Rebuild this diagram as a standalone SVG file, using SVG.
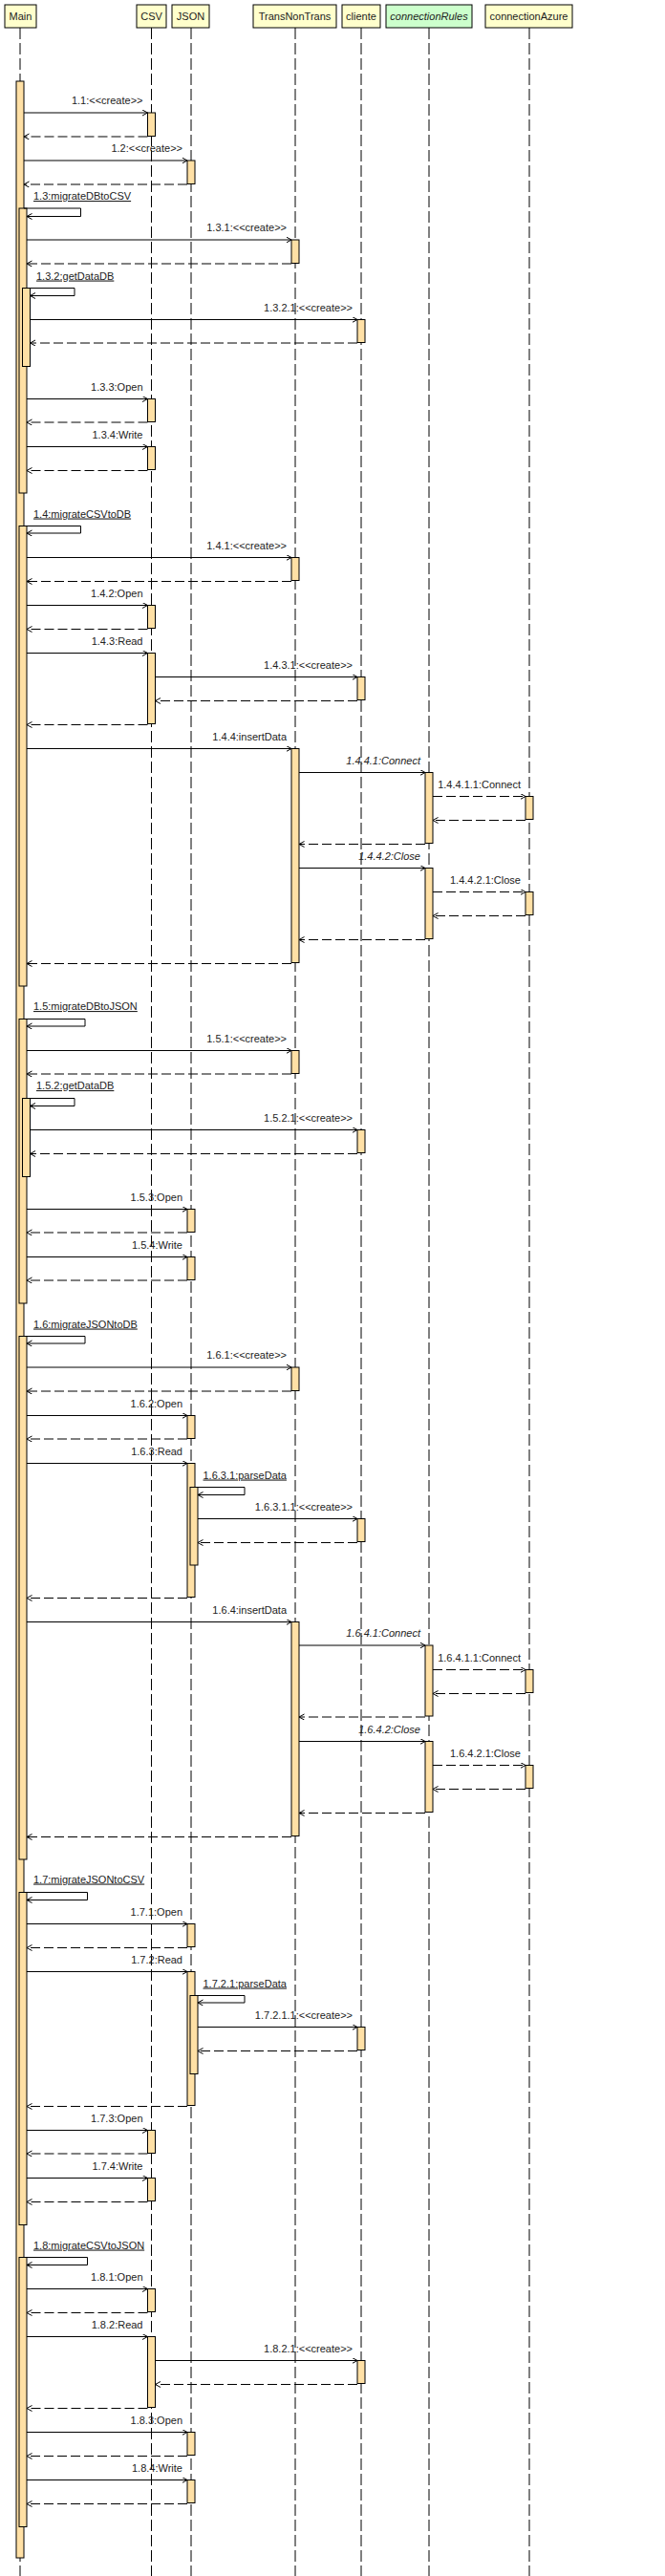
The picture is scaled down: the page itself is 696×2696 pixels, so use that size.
<svg xmlns="http://www.w3.org/2000/svg" width="696" height="2696" viewBox="0 0 696 2696">
<style>
.box{fill:#FFFFCC;stroke:#000;stroke-width:1}
.iface{fill:#CCFFCC}
.life{stroke:#000;stroke-width:1;stroke-dasharray:12 4;fill:none}
.act{fill:#FFE0A5;stroke:#000;stroke-width:1}
.msg{stroke:#000;stroke-width:1;fill:none;marker-end:url(#open)}
.ret{stroke-dasharray:10 4}
text{font-family:"Liberation Sans",Arial,sans-serif;font-size:11px;fill:#222}
.hd{text-anchor:middle}
.e{text-anchor:end}
.u{text-decoration:underline}
.it{font-style:italic}
</style>
<defs>
<marker id="open" markerWidth="8" markerHeight="8" refX="5.5" refY="3" orient="auto" markerUnits="userSpaceOnUse">
<path d="M0,0 L5.5,3 L0,6" fill="none" stroke="#000" stroke-width="1"/>
</marker>
</defs>
<rect width="696" height="2696" fill="#fff"/>

<g id="Main">
<rect class="box" x="5" y="5" width="33" height="24"/>
<text class="hd" x="21.5" y="21">Main</text>
<line class="life" x1="21" y1="29" x2="21" y2="2696"/>
<rect class="act" x="17" y="85" width="8" height="2592"/>
<rect class="act" x="20" y="218" width="8" height="298"/>
<rect class="act" x="20" y="550.5" width="8" height="481.5"/>
<rect class="act" x="20" y="1066.5" width="8" height="297.5"/>
<rect class="act" x="20" y="1398.5" width="8" height="547.5"/>
<rect class="act" x="20" y="1980.5" width="8" height="348"/>
<rect class="act" x="20" y="2362.5" width="8" height="282"/>
<rect class="act" x="23.5" y="301.5" width="8" height="82"/>
<rect class="act" x="23.5" y="1149.5" width="8" height="82"/>
</g>

<g id="CSV">
<rect class="box" x="143" y="5" width="31" height="24"/>
<text class="hd" x="158.5" y="21">CSV</text>
<line class="life" x1="158.5" y1="29" x2="158.5" y2="2696"/>
<rect class="act" x="154.5" y="118" width="8" height="24.5"/>
<rect class="act" x="154.5" y="417.5" width="8" height="24"/>
<rect class="act" x="154.5" y="467.5" width="8" height="24"/>
<rect class="act" x="154.5" y="633.5" width="8" height="24"/>
<rect class="act" x="154.5" y="683.5" width="8" height="74"/>
<rect class="act" x="154.5" y="2229.5" width="8" height="24"/>
<rect class="act" x="154.5" y="2279.5" width="8" height="24"/>
<rect class="act" x="154.5" y="2395.5" width="8" height="24"/>
<rect class="act" x="154.5" y="2445.5" width="8" height="74"/>
</g>

<g id="JSON">
<rect class="box" x="180" y="5" width="39" height="24"/>
<text class="hd" x="199.5" y="21">JSON</text>
<line class="life" x1="200" y1="29" x2="200" y2="2696"/>
<rect class="act" x="196" y="168" width="8" height="24.5"/>
<rect class="act" x="196" y="1265.5" width="8" height="24"/>
<rect class="act" x="196" y="1315.5" width="8" height="24"/>
<rect class="act" x="196" y="1481.5" width="8" height="24"/>
<rect class="act" x="196" y="1531.5" width="8" height="140"/>
<rect class="act" x="196" y="2013.5" width="8" height="24"/>
<rect class="act" x="196" y="2063.5" width="8" height="140"/>
<rect class="act" x="196" y="2545.5" width="8" height="24"/>
<rect class="act" x="196" y="2595.5" width="8" height="24"/>
<rect class="act" x="199" y="1556.5" width="8" height="81.5"/>
<rect class="act" x="199" y="2088.5" width="8" height="82"/>
</g>

<g id="TransNonTrans">
<rect class="box" x="265" y="5" width="87" height="24"/>
<text class="hd" x="308.5" y="21">TransNonTrans</text>
<line class="life" x1="309" y1="29" x2="309" y2="2696"/>
<rect class="act" x="305" y="251" width="8" height="24.5"/>
<rect class="act" x="305" y="583.5" width="8" height="24"/>
<rect class="act" x="305" y="783.5" width="8" height="224"/>
<rect class="act" x="305" y="1099.5" width="8" height="24"/>
<rect class="act" x="305" y="1431" width="8" height="24.5"/>
<rect class="act" x="305" y="1697.5" width="8" height="224"/>
</g>

<g id="cliente">
<rect class="box" x="358" y="5" width="40" height="24"/>
<text class="hd" x="378" y="21">cliente</text>
<line class="life" x1="378" y1="29" x2="378" y2="2696"/>
<rect class="act" x="374" y="334.5" width="8" height="24"/>
<rect class="act" x="374" y="708.5" width="8" height="24"/>
<rect class="act" x="374" y="1182.5" width="8" height="24"/>
<rect class="act" x="374" y="1589.5" width="8" height="24"/>
<rect class="act" x="374" y="2121.5" width="8" height="24"/>
<rect class="act" x="374" y="2470.5" width="8" height="24"/>
</g>

<g id="connectionRules">
<rect class="box iface" x="404" y="5" width="90" height="24"/>
<text class="hd it" x="449" y="21">connectionRules</text>
<line class="life" x1="449" y1="29" x2="449" y2="2696"/>
<rect class="act" x="445" y="808.5" width="8" height="74"/>
<rect class="act" x="445" y="908.5" width="8" height="74"/>
<rect class="act" x="445" y="1722" width="8" height="74"/>
<rect class="act" x="445" y="1822.5" width="8" height="74"/>
</g>

<g id="connectionAzure">
<rect class="box" x="508" y="5" width="91" height="24"/>
<text class="hd" x="553.5" y="21">connectionAzure</text>
<line class="life" x1="554" y1="29" x2="554" y2="2696"/>
<rect class="act" x="550" y="833.5" width="8" height="24"/>
<rect class="act" x="550" y="933.5" width="8" height="24"/>
<rect class="act" x="550" y="1747.5" width="8" height="24"/>
<rect class="act" x="550" y="1847.5" width="8" height="24"/>
</g>

<g id="connectors">
<line class="msg" x1="25" y1="118" x2="154.5" y2="118"/><text class="e" x="149.5" y="109">1.1:&lt;&lt;create&gt;&gt;</text>
<line class="msg ret" x1="154.5" y1="143" x2="25" y2="143"/>
<line class="msg" x1="25" y1="168" x2="196" y2="168"/><text class="e" x="191" y="159">1.2:&lt;&lt;create&gt;&gt;</text>
<line class="msg ret" x1="196" y1="193" x2="25" y2="193"/>

<text class="u" x="35" y="209">1.3:migrateDBtoCSV</text>
<path class="msg" d="M25,218 H84.5 V226.5 H28"/>
<line class="msg" x1="28" y1="251" x2="305" y2="251"/><text class="e" x="300" y="242">1.3.1:&lt;&lt;create&gt;&gt;</text>
<line class="msg ret" x1="305" y1="276" x2="28" y2="276"/>
<text class="u" x="38" y="292.5">1.3.2:getDataDB</text>
<path class="msg" d="M28,301.5 H78 V309.5 H31.5"/>
<line class="msg" x1="31.5" y1="334.5" x2="374" y2="334.5"/><text class="e" x="369" y="325.5">1.3.2.1:&lt;&lt;create&gt;&gt;</text>
<line class="msg ret" x1="374" y1="359" x2="31.5" y2="359"/>
<line class="msg" x1="28" y1="417.5" x2="154.5" y2="417.5"/><text class="e" x="149.5" y="408.5">1.3.3:Open</text>
<line class="msg ret" x1="154.5" y1="442" x2="28" y2="442"/>
<line class="msg" x1="28" y1="467.5" x2="154.5" y2="467.5"/><text class="e" x="149.5" y="458.5">1.3.4:Write</text>
<line class="msg ret" x1="154.5" y1="492.5" x2="28" y2="492.5"/>

<text class="u" x="35" y="541.5">1.4:migrateCSVtoDB</text>
<path class="msg" d="M25,550.5 H84.5 V558 H28"/>
<line class="msg" x1="28" y1="583.5" x2="305" y2="583.5"/><text class="e" x="300" y="574.5">1.4.1:&lt;&lt;create&gt;&gt;</text>
<line class="msg ret" x1="305" y1="608.5" x2="28" y2="608.5"/>
<line class="msg" x1="28" y1="633.5" x2="154.5" y2="633.5"/><text class="e" x="149.5" y="624.5">1.4.2:Open</text>
<line class="msg ret" x1="154.5" y1="658.5" x2="28" y2="658.5"/>
<line class="msg" x1="28" y1="683.5" x2="154.5" y2="683.5"/><text class="e" x="149.5" y="674.5">1.4.3:Read</text>
<line class="msg" x1="162.5" y1="708.5" x2="374" y2="708.5"/><text class="e" x="369" y="699.5">1.4.3.1:&lt;&lt;create&gt;&gt;</text>
<line class="msg ret" x1="374" y1="733.5" x2="162.5" y2="733.5"/>
<line class="msg ret" x1="154.5" y1="758.5" x2="28" y2="758.5"/>
<line class="msg" x1="28" y1="783.5" x2="305" y2="783.5"/><text class="e" x="300" y="774.5">1.4.4:insertData</text>
<line class="msg" x1="313" y1="808.5" x2="445" y2="808.5"/><text class="e it" x="440" y="799.5">1.4.4.1:Connect</text>
<line class="msg ret" x1="453" y1="833.5" x2="550" y2="833.5"/><text class="e" x="545" y="824.5">1.4.4.1.1:Connect</text>
<line class="msg ret" x1="550" y1="858.5" x2="453" y2="858.5"/>
<line class="msg ret" x1="445" y1="883.5" x2="313" y2="883.5"/>
<line class="msg" x1="313" y1="908.5" x2="445" y2="908.5"/><text class="e it" x="440" y="899.5">1.4.4.2:Close</text>
<line class="msg ret" x1="453" y1="933.5" x2="550" y2="933.5"/><text class="e" x="545" y="924.5">1.4.4.2.1:Close</text>
<line class="msg ret" x1="550" y1="958.5" x2="453" y2="958.5"/>
<line class="msg ret" x1="445" y1="983.5" x2="313" y2="983.5"/>
<line class="msg ret" x1="305" y1="1008.5" x2="28" y2="1008.5"/>

<text class="u" x="35" y="1057">1.5:migrateDBtoJSON</text>
<path class="msg" d="M25,1066.5 H89 V1074 H28"/>
<line class="msg" x1="28" y1="1099.5" x2="305" y2="1099.5"/><text class="e" x="300" y="1090.5">1.5.1:&lt;&lt;create&gt;&gt;</text>
<line class="msg ret" x1="305" y1="1124" x2="28" y2="1124"/>
<text class="u" x="38" y="1140">1.5.2:getDataDB</text>
<path class="msg" d="M28,1149.5 H78 V1157.5 H31.5"/>
<line class="msg" x1="31.5" y1="1182.5" x2="374" y2="1182.5"/><text class="e" x="369" y="1173.5">1.5.2.1:&lt;&lt;create&gt;&gt;</text>
<line class="msg ret" x1="374" y1="1207.5" x2="31.5" y2="1207.5"/>
<line class="msg" x1="28" y1="1265.5" x2="196" y2="1265.5"/><text class="e" x="191" y="1256.5">1.5.3:Open</text>
<line class="msg ret" x1="196" y1="1290" x2="28" y2="1290"/>
<line class="msg" x1="28" y1="1315.5" x2="196" y2="1315.5"/><text class="e" x="191" y="1306.5">1.5.4:Write</text>
<line class="msg ret" x1="196" y1="1340" x2="28" y2="1340"/>

<text class="u" x="35" y="1389.5">1.6:migrateJSONtoDB</text>
<path class="msg" d="M25,1398.5 H89 V1406 H28"/>
<line class="msg" x1="28" y1="1431" x2="305" y2="1431"/><text class="e" x="300" y="1422">1.6.1:&lt;&lt;create&gt;&gt;</text>
<line class="msg ret" x1="305" y1="1456" x2="28" y2="1456"/>
<line class="msg" x1="28" y1="1481.5" x2="196" y2="1481.5"/><text class="e" x="191" y="1472.5">1.6.2:Open</text>
<line class="msg ret" x1="196" y1="1506" x2="28" y2="1506"/>
<line class="msg" x1="28" y1="1531.5" x2="196" y2="1531.5"/><text class="e" x="191" y="1522.5">1.6.3:Read</text>
<text class="u" x="212.5" y="1547.5">1.6.3.1:parseData</text>
<path class="msg" d="M204,1556.5 H256 V1564.5 H207"/>
<line class="msg" x1="207" y1="1589.5" x2="374" y2="1589.5"/><text class="e" x="369" y="1580.5">1.6.3.1.1:&lt;&lt;create&gt;&gt;</text>
<line class="msg ret" x1="374" y1="1614.5" x2="207" y2="1614.5"/>
<line class="msg ret" x1="196" y1="1672.5" x2="28" y2="1672.5"/>
<line class="msg" x1="28" y1="1697.5" x2="305" y2="1697.5"/><text class="e" x="300" y="1688.5">1.6.4:insertData</text>
<line class="msg" x1="313" y1="1722" x2="445" y2="1722"/><text class="e it" x="440" y="1713">1.6.4.1:Connect</text>
<line class="msg ret" x1="453" y1="1747.5" x2="550" y2="1747.5"/><text class="e" x="545" y="1738.5">1.6.4.1.1:Connect</text>
<line class="msg ret" x1="550" y1="1772.5" x2="453" y2="1772.5"/>
<line class="msg ret" x1="445" y1="1797" x2="313" y2="1797"/>
<line class="msg" x1="313" y1="1822.5" x2="445" y2="1822.5"/><text class="e it" x="440" y="1813.5">1.6.4.2:Close</text>
<line class="msg ret" x1="453" y1="1847.5" x2="550" y2="1847.5"/><text class="e" x="545" y="1838.5">1.6.4.2.1:Close</text>
<line class="msg ret" x1="550" y1="1872.5" x2="453" y2="1872.5"/>
<line class="msg ret" x1="445" y1="1897.5" x2="313" y2="1897.5"/>
<line class="msg ret" x1="305" y1="1922.5" x2="28" y2="1922.5"/>

<text class="u" x="35" y="1970.5">1.7:migrateJSONtoCSV</text>
<path class="msg" d="M25,1980.5 H91.5 V1988.5 H28"/>
<line class="msg" x1="28" y1="2013.5" x2="196" y2="2013.5"/><text class="e" x="191" y="2004.5">1.7.1:Open</text>
<line class="msg ret" x1="196" y1="2038.5" x2="28" y2="2038.5"/>
<line class="msg" x1="28" y1="2063.5" x2="196" y2="2063.5"/><text class="e" x="191" y="2054.5">1.7.2:Read</text>
<text class="u" x="212.5" y="2079.5">1.7.2.1:parseData</text>
<path class="msg" d="M204,2088.5 H256 V2096 H207"/>
<line class="msg" x1="207" y1="2121.5" x2="374" y2="2121.5"/><text class="e" x="369" y="2112.5">1.7.2.1.1:&lt;&lt;create&gt;&gt;</text>
<line class="msg ret" x1="374" y1="2146.5" x2="207" y2="2146.5"/>
<line class="msg ret" x1="196" y1="2204.5" x2="28" y2="2204.5"/>
<line class="msg" x1="28" y1="2229.5" x2="154.5" y2="2229.5"/><text class="e" x="149.5" y="2220.5">1.7.3:Open</text>
<line class="msg ret" x1="154.5" y1="2254" x2="28" y2="2254"/>
<line class="msg" x1="28" y1="2279.5" x2="154.5" y2="2279.5"/><text class="e" x="149.5" y="2270.5">1.7.4:Write</text>
<line class="msg ret" x1="154.5" y1="2304.5" x2="28" y2="2304.5"/>

<text class="u" x="35" y="2353.5">1.8:migrateCSVtoJSON</text>
<path class="msg" d="M25,2362.5 H91.5 V2370.5 H28"/>
<line class="msg" x1="28" y1="2395.5" x2="154.5" y2="2395.5"/><text class="e" x="149.5" y="2386.5">1.8.1:Open</text>
<line class="msg ret" x1="154.5" y1="2420.5" x2="28" y2="2420.5"/>
<line class="msg" x1="28" y1="2445.5" x2="154.5" y2="2445.5"/><text class="e" x="149.5" y="2436.5">1.8.2:Read</text>
<line class="msg" x1="162.5" y1="2470.5" x2="374" y2="2470.5"/><text class="e" x="369" y="2461.5">1.8.2.1:&lt;&lt;create&gt;&gt;</text>
<line class="msg ret" x1="374" y1="2495.5" x2="162.5" y2="2495.5"/>
<line class="msg ret" x1="154.5" y1="2520.5" x2="28" y2="2520.5"/>
<line class="msg" x1="28" y1="2545.5" x2="196" y2="2545.5"/><text class="e" x="191" y="2536.5">1.8.3:Open</text>
<line class="msg ret" x1="196" y1="2570.5" x2="28" y2="2570.5"/>
<line class="msg" x1="28" y1="2595.5" x2="196" y2="2595.5"/><text class="e" x="191" y="2586.5">1.8.4:Write</text>
<line class="msg ret" x1="196" y1="2620.5" x2="28" y2="2620.5"/>
</g>
</svg>
